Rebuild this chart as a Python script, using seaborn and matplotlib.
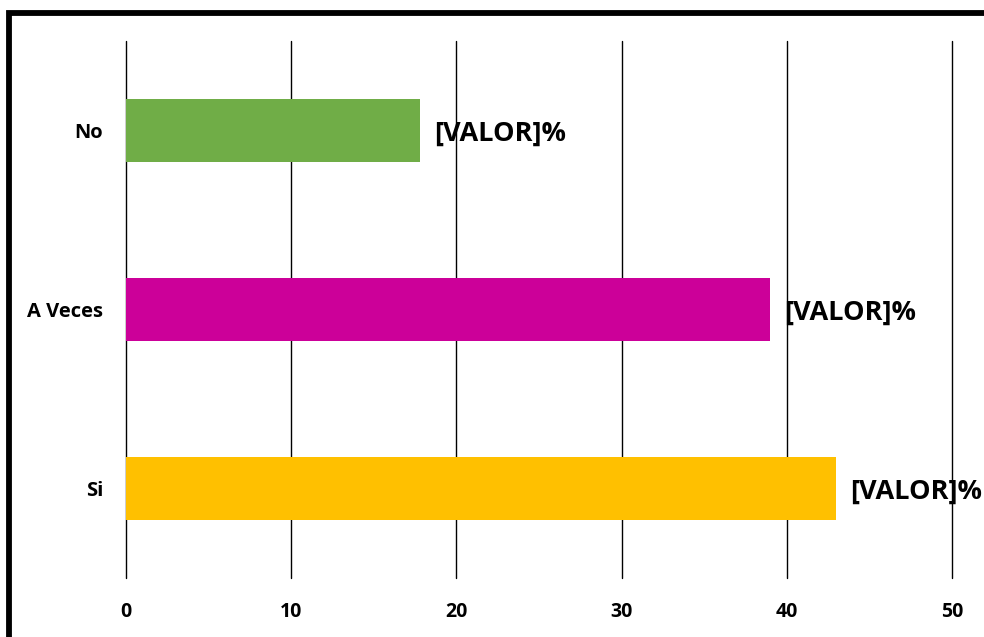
import matplotlib.pyplot as plt
import pandas as pd
import seaborn as sns
from matplotlib.patches import Rectangle

# data
categories = ['No', 'A Veces', 'Si']
values = [17.8, 39.0, 43.0]
colors = ['#70AD47', '#CC0099', '#FFC000']
x_ticks = [0, 10, 20, 30, 40, 50]

df = pd.DataFrame({'Respuesta': categories, 'Porcentaje': values})

sns.set_theme(style="white")
plt.rcParams['font.family'] = ['Open Sans', 'DejaVu Sans']

fig = plt.figure(figsize=(9.84, 6.37), dpi=100)
ax = fig.add_axes([0.128, 0.0926, 0.8395, 0.843])

sns.barplot(data=df, x='Porcentaje', y='Respuesta', hue='Respuesta',
            palette=colors, legend=False, orient='h', width=0.356,
            saturation=1, linewidth=0, ax=ax)

ax.set_xlim(0, 50)
ax.set_ylim(2.5, -0.5)
ax.set_xticks(x_ticks)
ax.set_xticklabels([str(t) for t in x_ticks], fontsize=14, fontweight='bold')
ax.set_yticks(range(len(categories)))
ax.set_yticklabels(categories, fontsize=14.5, fontweight='bold')
ax.tick_params(axis='x', length=0, pad=17, colors='black')
ax.tick_params(axis='y', length=0, pad=16.5, colors='black')
ax.set_xlabel('')
ax.set_ylabel('')
ax.grid(axis='x', color='black', linewidth=1.0)
for gl in ax.get_xgridlines():
    gl.set_clip_on(False)
ax.set_axisbelow(True)
for s in ax.spines.values():
    s.set_visible(False)

# value labels
for i, v in enumerate(values):
    ax.annotate('[VALOR]%', (v, i), xytext=(10, -2), textcoords='offset points',
                ha='left', va='center', fontsize=19.5, fontweight='bold', color='black')

# thick chart border (cut at right and bottom edges like the reference)
fig.patches.append(Rectangle((8.5 / 984, -0.05), 1.2, 1.05 - 12.5 / 637,
                             transform=fig.transFigure, fill=False,
                             edgecolor='black', linewidth=4.2, zorder=10))

plt.savefig('out.png', dpi=100)
